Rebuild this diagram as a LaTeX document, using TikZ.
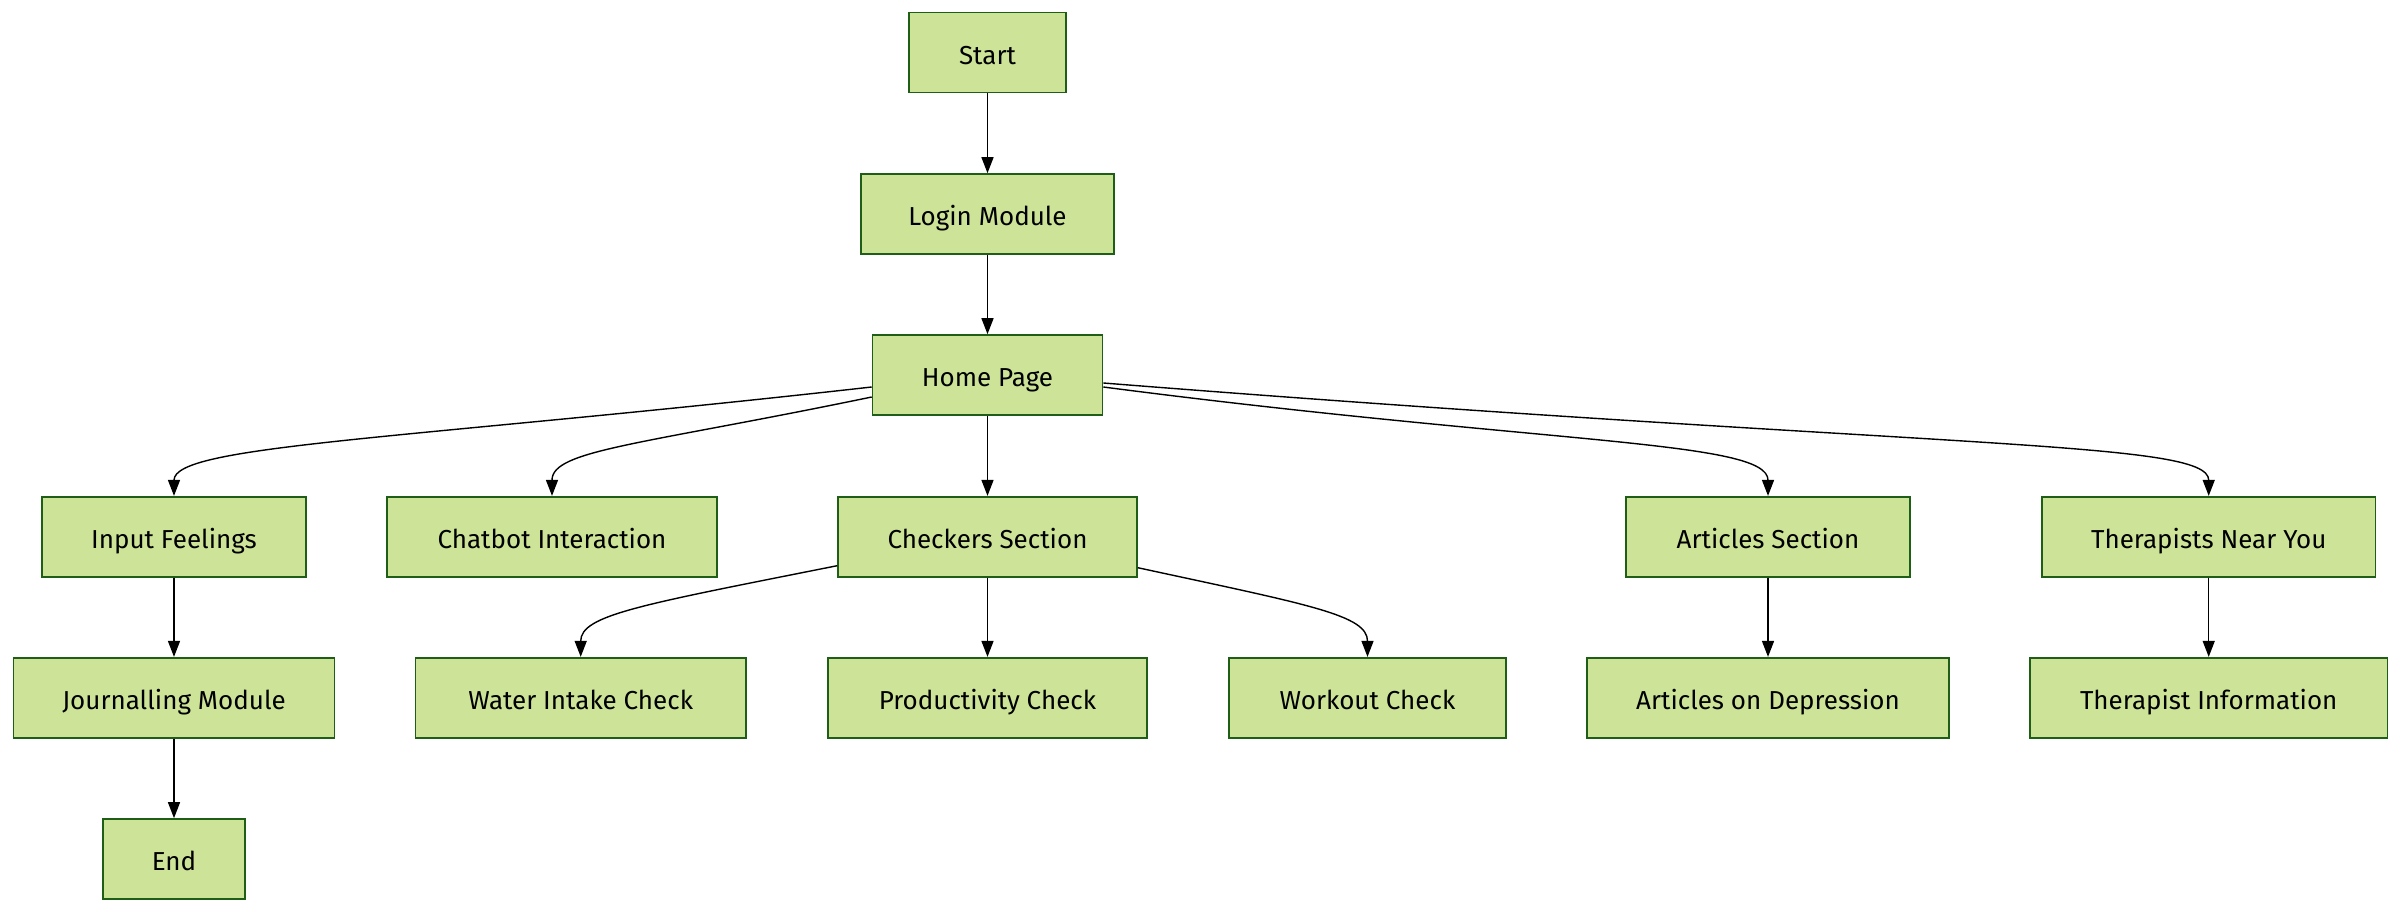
\documentclass[tikz,border=0pt]{standalone}
\usepackage{fontspec}
\setmainfont{Fira Sans}
\usetikzlibrary{arrows.meta}
\definecolor{boxfill}{HTML}{CDE498}
\definecolor{boxline}{HTML}{1F5E16}
\tikzset{
  box/.style={draw=boxline, fill=boxfill, line width=1.6pt, rectangle,
    minimum height=80pt, inner sep=0pt, text height=28pt, text depth=5pt,
    font=\fontsize{26}{31}\selectfont},
  conn/.style={draw=black, line width=1.4pt, -{Triangle[length=16pt,width=12pt]}},
}
\begin{document}
\begin{tikzpicture}[x=1pt,y=-1pt]
\path[use as bounding box] (0,0) rectangle (2400,912);
% rows 1-3
\node[box, minimum width=157pt] (start) at (987.5,52.7) {Start};
\node[box, minimum width=253pt] (login) at (987.5,214) {Login Module};
\node[box, minimum width=230pt] (home) at (987.5,375) {Home Page};
% row 4
\node[box, minimum width=264pt] (input) at (174,536.7) {Input Feelings};
\node[box, minimum width=330pt] (chat) at (552,536.7) {Chatbot Interaction};
\node[box, minimum width=299pt] (check) at (987.5,536.7) {Checkers Section};
\node[box, minimum width=284.5pt] (arts) at (1768,536.7) {Articles Section};
\node[box, minimum width=333.5pt] (ther) at (2208.7,536.7) {Therapists Near You};
% row 5
\node[box, minimum width=321pt] (journal) at (174,697.7) {Journalling Module};
\node[box, minimum width=330.5pt] (water) at (580.7,697.7) {Water Intake Check};
\node[box, minimum width=319pt] (prod) at (987.5,697.7) {Productivity Check};
\node[box, minimum width=277pt] (work) at (1367.5,697.7) {Workout Check};
\node[box, minimum width=361.5pt] (dep) at (1768,697.7) {Articles on Depression};
\node[box, minimum width=357.5pt] (info) at (2208.7,697.7) {Therapist Information};
% row 6
\node[box, minimum width=141.5pt] (end) at (174,859) {End};

% connectors
\draw[conn] (start) -- (login);
\draw[conn] (login) -- (home);
\draw[conn] (home) -- (check);
\draw[conn] ([yshift=-12pt]home.west) .. controls (400,440) and (174,445) .. (input.north);
\draw[conn] ([yshift=-22pt]home.west) .. controls (640,445) and (552,450) .. (chat.north);
\draw[conn] ([yshift=-12pt]home.east) .. controls (1550,445) and (1768,440) .. (arts.north);
\draw[conn] ([yshift=-8pt]home.east) .. controls (1950,450) and (2208.7,440) .. (ther.north);
\draw[conn] ([yshift=-29pt]check.west) .. controls (640,605) and (580.7,615) .. (water.north);
\draw[conn] (check) -- (prod);
\draw[conn] ([yshift=-31pt]check.east) .. controls (1310,605) and (1367.5,615) .. (work.north);
\draw[conn] (input) -- (journal);
\draw[conn] (journal) -- (end);
\draw[conn] (arts) -- (dep);
\draw[conn] (ther) -- (info);
\end{tikzpicture}
\end{document}
